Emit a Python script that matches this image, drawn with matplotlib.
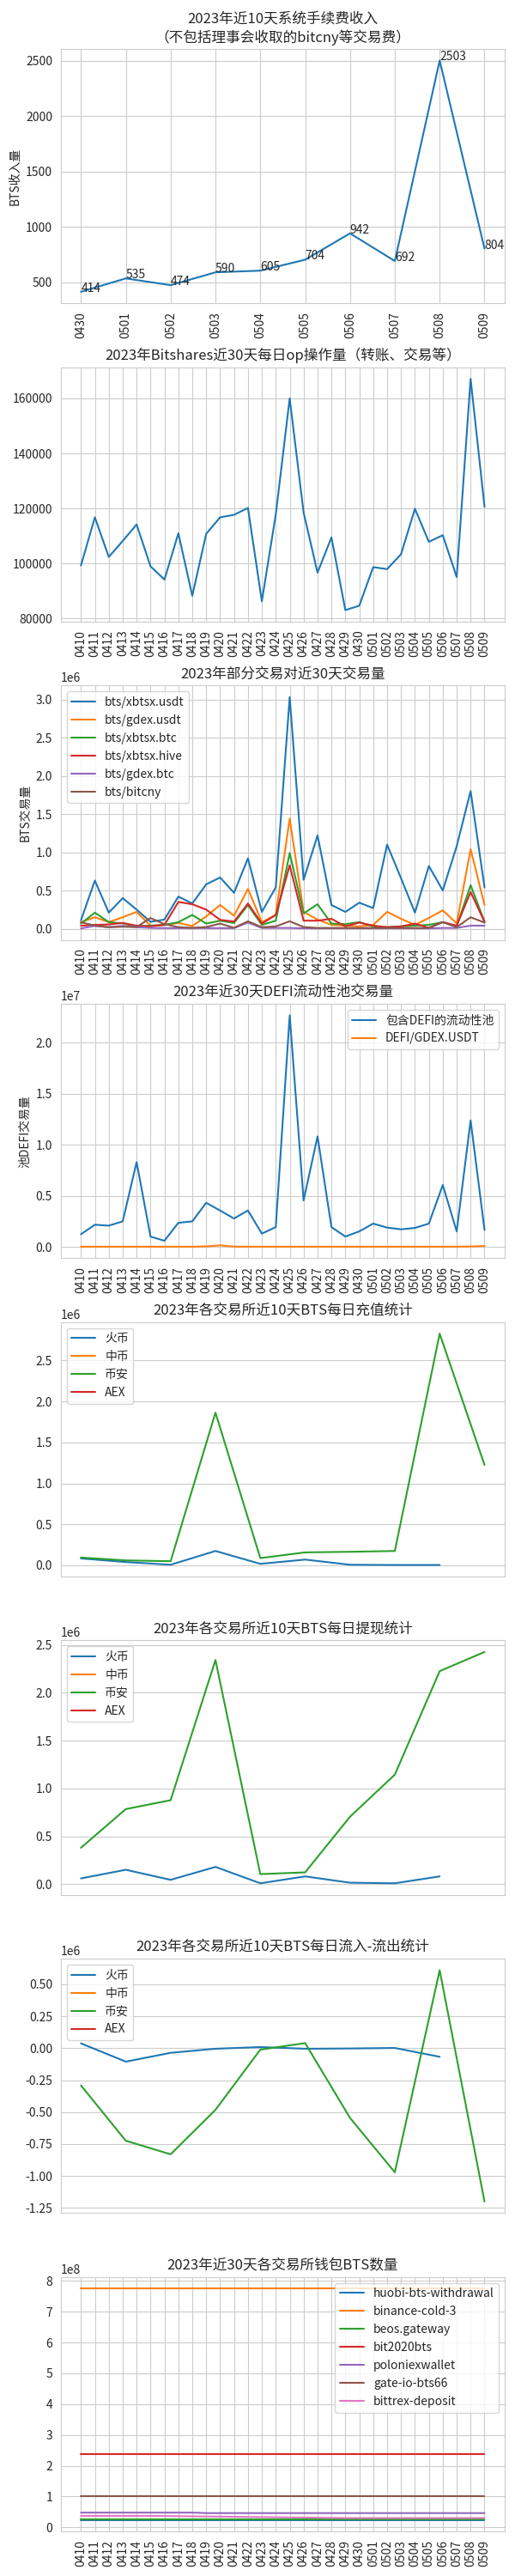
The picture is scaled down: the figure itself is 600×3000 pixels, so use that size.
import matplotlib
matplotlib.use('Agg')
import matplotlib.pyplot as plt
import seaborn as sns

sns.set_style('whitegrid')
plt.rcParams['font.family'] = ['Noto Sans CJK SC', 'DejaVu Sans']
plt.rcParams['axes.unicode_minus'] = False

# ---- data ----
days10 = ['0430', '0501', '0502', '0503', '0504', '0505', '0506', '0507', '0508', '0509']
days30 = ['0410', '0411', '0412', '0413', '0414', '0415', '0416', '0417', '0418', '0419',
          '0420', '0421', '0422', '0423', '0424', '0425', '0426', '0427', '0428', '0429',
          '0430', '0501', '0502', '0503', '0504', '0505', '0506', '0507', '0508', '0509']

fee_income = [414, 535, 474, 590, 605, 704, 942, 692, 2503, 804]

op_count = [99300, 116800, 102400, 108200, 114200, 99000, 94200, 111000, 88300, 110800,
            116800, 117700, 120200, 86300, 117800, 160000, 118500, 96700, 109500, 83100,
            84700, 98700, 98000, 103400, 119900, 107900, 110300, 95100, 167100, 120600]

# pair volumes, unit 1e6
pair_names = ['bts/xbtsx.usdt', 'bts/gdex.usdt', 'bts/xbtsx.btc',
              'bts/xbtsx.hive', 'bts/gdex.btc', 'bts/bitcny']
xbtsx_usdt = [0.11, 0.63, 0.21, 0.40, 0.25, 0.09, 0.12, 0.42, 0.33, 0.58,
              0.67, 0.47, 0.92, 0.22, 0.54, 3.03, 0.64, 1.22, 0.31, 0.22,
              0.34, 0.27, 1.10, 0.66, 0.21, 0.82, 0.50, 1.08, 1.80, 0.54]
gdex_usdt = [0.086, 0.15, 0.086, 0.15, 0.22, 0.04, 0.05, 0.075, 0.037, 0.16,
             0.31, 0.17, 0.52, 0.086, 0.18, 1.44, 0.22, 0.12, 0.05, 0.04,
             0.03, 0.05, 0.22, 0.13, 0.05, 0.14, 0.24, 0.07, 1.04, 0.31]
xbtsx_btc = [0.067, 0.21, 0.086, 0.07, 0.03, 0.04, 0.05, 0.086, 0.18, 0.067,
             0.105, 0.075, 0.31, 0.05, 0.105, 0.99, 0.20, 0.32, 0.067, 0.06,
             0.086, 0.03, 0.02, 0.03, 0.04, 0.05, 0.086, 0.03, 0.57, 0.09]
xbtsx_hive = [0.04, 0.05, 0.056, 0.075, 0.04, 0.03, 0.05, 0.35, 0.32, 0.25,
              0.116, 0.094, 0.33, 0.067, 0.18, 0.83, 0.105, 0.105, 0.13, 0.03,
              0.08, 0.04, 0.02, 0.03, 0.067, 0.01, 0.086, 0.04, 0.48, 0.09]
gdex_btc = [0.004, 0.037, 0.02, 0.037, 0.02, 0.01, 0.008, 0.008, 0.008, 0.008,
            0.008, 0.008, 0.08, 0.01, 0.01, 0.01, 0.005, 0.005, 0.005, 0.005,
            0.005, 0.005, 0.005, 0.005, 0.005, 0.005, 0.01, 0.01, 0.04, 0.04]
bitcny = [0.086, 0.04, 0.02, 0.026, 0.022, 0.14, 0.06, 0.02, 0.012, 0.022,
          0.067, 0.012, 0.097, 0.02, 0.03, 0.097, 0.022, 0.01, 0.01, 0.01,
          0.01, 0.01, 0.01, 0.01, 0.01, 0.01, 0.086, 0.02, 0.15, 0.08]
pair_series = [xbtsx_usdt, gdex_usdt, xbtsx_btc, xbtsx_hive, gdex_btc, bitcny]

# defi pools, unit 1e7
defi_pool = [0.123, 0.216, 0.207, 0.249, 0.829, 0.10, 0.059, 0.235, 0.249, 0.431,
             0.355, 0.277, 0.356, 0.129, 0.193, 2.266, 0.454, 1.081, 0.193, 0.10,
             0.151, 0.227, 0.188, 0.171, 0.185, 0.227, 0.605, 0.151, 1.238, 0.165]
defi_gdex = [0.001, 0.001, 0.001, 0.001, 0.001, 0.001, 0.001, 0.001, 0.001, 0.004,
             0.014, 0.002, 0.001, 0.001, 0.001, 0.001, 0.001, 0.001, 0.001, 0.001,
             0.001, 0.001, 0.001, 0.001, 0.001, 0.001, 0.001, 0.001, 0.003, 0.008]

exchanges = ['火币', '中币', '币安', 'AEX']
# unit 1e6
dep_huobi = [0.084, 0.04, 0.007, 0.175, 0.018, 0.07, 0.007, 0.004, 0.004]
dep_binance = [0.095, 0.06, 0.05, 1.863, 0.088, 0.158, 0.165, 0.175, 2.826, 1.225]
wd_huobi = [0.06, 0.15, 0.045, 0.18, 0.009, 0.081, 0.015, 0.009, 0.081]
wd_binance = [0.38, 0.784, 0.877, 2.341, 0.105, 0.123, 0.704, 1.144, 2.225, 2.425]
net_huobi = [0.038, -0.105, -0.036, -0.004, 0.009, -0.004, -0.002, 0.002, -0.067]
net_binance = [-0.291, -0.724, -0.830, -0.482, -0.011, 0.040, -0.545, -0.971, 0.610, -1.200]

# wallets, unit 1e8
wallet_names = ['huobi-bts-withdrawal', 'binance-cold-3', 'beos.gateway', 'bit2020bts',
                'poloniexwallet', 'gate-io-bts66', 'bittrex-deposit']
w_huobi = [0.24] * 30
w_binance = [7.75] * 30
w_beos = [0.268] * 30
w_bit2020 = [2.39] * 30
w_polo = [0.475] * 9 + [0.46] * 21
w_gate = [1.02] * 30
w_bittrex = [0.37, 0.37, 0.37, 0.37, 0.37, 0.37, 0.365, 0.36, 0.355, 0.35,
             0.345, 0.34, 0.335, 0.33, 0.325, 0.32, 0.315, 0.31, 0.305, 0.30,
             0.30, 0.30, 0.30, 0.30, 0.30, 0.30, 0.30, 0.30, 0.30, 0.30]
wallet_series = [w_huobi, w_binance, w_beos, w_bit2020, w_polo, w_gate, w_bittrex]

# ---- figure ----
fig, axes = plt.subplots(8, 1, figsize=(6, 30), dpi=100)
fig.subplots_adjust(left=0.118, right=0.98, top=0.981, bottom=0.0173, hspace=0.251)

# 1 fee income
ax = axes[0]
ax.plot(days10, fee_income)
for d, v in zip(days10, fee_income):
    ax.text(d, v, str(v))
ax.set_title('2023年近10天系统手续费收入\n（不包括理事会收取的bitcny等交易费）')
ax.set_ylabel('BTS收入量')
ax.tick_params(axis='x', rotation=90)

# 2 op count
ax = axes[1]
ax.plot(days30, op_count)
ax.set_title('2023年Bitshares近30天每日op操作量（转账、交易等）')
ax.tick_params(axis='x', rotation=90)

# 3 pair volumes
ax = axes[2]
for name, s in zip(pair_names, pair_series):
    ax.plot(days30, [v * 1e6 for v in s], label=name)
ax.set_title('2023年部分交易对近30天交易量')
ax.set_ylabel('BTS交易量')
ax.legend(loc='upper left')
ax.tick_params(axis='x', rotation=90)

# 4 defi
ax = axes[3]
ax.plot(days30, [v * 1e7 for v in defi_pool], label='包含DEFI的流动性池')
ax.plot(days30, [v * 1e7 for v in defi_gdex], label='DEFI/GDEX.USDT')
ax.set_title('2023年近30天DEFI流动性池交易量')
ax.set_ylabel('池DEFI交易量')
ax.legend(loc='upper right')
ax.tick_params(axis='x', rotation=90)

# 5-7 exchanges
ex_data = [
    ('2023年各交易所近10天BTS每日充值统计', dep_huobi, dep_binance),
    ('2023年各交易所近10天BTS每日提现统计', wd_huobi, wd_binance),
    ('2023年各交易所近10天BTS每日流入-流出统计', net_huobi, net_binance),
]
for ax, (title, hb, bn) in zip(axes[4:7], ex_data):
    ax.plot(range(len(hb)), [v * 1e6 for v in hb], label=exchanges[0])
    ax.plot([], [], label=exchanges[1])
    ax.plot(range(len(bn)), [v * 1e6 for v in bn], label=exchanges[2])
    ax.plot([], [], label=exchanges[3])
    ax.set_title(title)
    ax.set_xticks([])
    ax.legend(loc='upper left')

# 8 wallets
ax = axes[7]
for name, s in zip(wallet_names, wallet_series):
    ax.plot(days30, [v * 1e8 for v in s], label=name)
ax.set_title('2023年近30天各交易所钱包BTS数量')
ax.legend(loc='upper right')
ax.tick_params(axis='x', rotation=90)

fig.savefig('out.png')
